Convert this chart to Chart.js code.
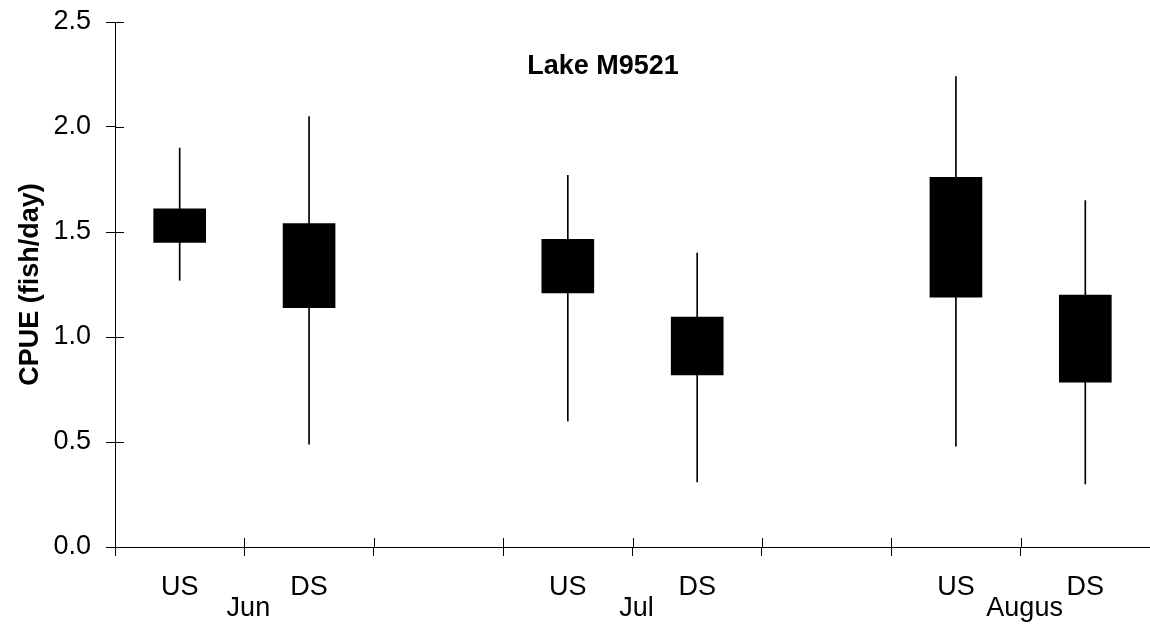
<!DOCTYPE html>
<html>
<head>
<meta charset="utf-8">
<script src="https://cdn.jsdelivr.net/npm/chart.js@4/dist/chart.umd.min.js"></script>
<style>
  html, body { margin: 0; padding: 0; background: #fff; }
  #wrap { width: 1150px; height: 626px; position: relative; }
</style>
</head>
<body>
<div id="wrap"><canvas id="c"></canvas></div>
<script>
// ---- data ----
const categories = ['US', 'DS', '', 'US', 'DS', '', 'US', 'DS'];
const months = ['Jun', 'Jul', 'Augus'];
const whiskerLow  = [1.27, 0.49, null, 0.60, 0.31, null, 0.48, 0.30];
const whiskerHigh = [1.90, 2.05, null, 1.77, 1.40, null, 2.24, 1.65];
const boxLow      = [1.45, 1.14, null, 1.21, 0.82, null, 1.19, 0.785];
const boxHigh     = [1.61, 1.54, null, 1.465, 1.095, null, 1.76, 1.20];
const yTicks = [0, 0.5, 1.0, 1.5, 2.0, 2.5];
const chartTitle = 'Lake M9521';
const yTitle = 'CPUE (fish/day)';

const FONT = "'Liberation Sans', Arial, sans-serif";
Chart.defaults.font.family = FONT;
Chart.defaults.color = '#000';

const pairs = (lo, hi) => lo.map((v, i) => (v === null ? null : [v, hi[i]]));

const overlay = {
  id: 'overlay',
  afterDraw(chart) {
    const ctx = chart.ctx;
    const xs = chart.scales.x, ys = chart.scales.y;
    const area = chart.chartArea;
    ctx.save();
    ctx.strokeStyle = '#000';
    ctx.lineWidth = 1;
    // inner half of tick marks (crossing the axes)
    ctx.beginPath();
    for (let i = 0; i <= categories.length; i++) {
      const x = Math.round(xs.getPixelForValue(i - 0.5)) + 0.5;
      ctx.moveTo(x, area.bottom);
      ctx.lineTo(x, area.bottom - 9);
    }
    yTicks.forEach(v => {
      const y = Math.round(ys.getPixelForValue(v)) + 0.5;
      ctx.moveTo(area.left, y);
      ctx.lineTo(area.left + 9, y);
    });
    ctx.stroke();
    // month labels between US and DS
    ctx.fillStyle = '#000';
    ctx.font = '27px ' + FONT;
    ctx.textAlign = 'center';
    ctx.textBaseline = 'alphabetic';
    months.forEach((m, k) => {
      const x = xs.getPixelForValue(3 * k + 0.5) + 4;
      ctx.fillText(m, x, area.bottom + 69);
    });
    // chart title inside plot
    ctx.font = 'bold 27px ' + FONT;
    ctx.fillText(chartTitle, area.left + 488, area.top + 52);
    ctx.restore();
  }
};

new Chart(document.getElementById('c'), {
  type: 'bar',
  data: {
    labels: categories,
    datasets: [
      {
        label: 'range',
        data: pairs(whiskerLow, whiskerHigh),
        backgroundColor: '#000',
        borderWidth: 0,
        barThickness: 1,
        grouped: false,
        order: 2
      },
      {
        label: 'box',
        data: pairs(boxLow, boxHigh),
        backgroundColor: '#000',
        borderWidth: 0,
        barThickness: 52,
        grouped: false,
        order: 1
      }
    ]
  },
  options: {
    responsive: true,
    maintainAspectRatio: false,
    animation: false,
    layout: { padding: { top: 22, right: 0, bottom: 0, left: 0 } },
    plugins: {
      legend: { display: false },
      tooltip: { enabled: false },
      title: { display: false }
    },
    scales: {
      x: {
        type: 'category',
        offset: true,
        grid: {
          offset: true,
          drawOnChartArea: false,
          drawTicks: true,
          tickLength: 9,
          color: '#000',
          lineWidth: 1
        },
        border: { display: true, color: '#000', width: 1 },
        ticks: {
          font: { size: 27 },
          color: '#000',
          padding: 15,
          maxRotation: 0,
          autoSkip: false
        },
        afterFit(s) { s.height = 79; s.paddingLeft = 0; s.paddingRight = 0; }
      },
      y: {
        min: 0,
        max: 2.5,
        afterBuildTicks(s) { s.ticks = yTicks.map(v => ({ value: v })); },
        grid: {
          drawOnChartArea: false,
          drawTicks: true,
          tickLength: 9,
          color: '#000',
          lineWidth: 1
        },
        border: { display: true, color: '#000', width: 1 },
        ticks: {
          font: { size: 27 },
          color: '#000',
          padding: 15,
          callback: v => Number(v).toFixed(1)
        },
        title: {
          display: true,
          text: yTitle,
          font: { size: 27, weight: 'bold' },
          color: '#000',
          padding: { top: 14, bottom: 0 }
        },
        afterFit(s) { s.width = 115; s.paddingTop = 0; s.paddingBottom = 0; }
      }
    }
  },
  plugins: [overlay]
});
</script>
</body>
</html>
